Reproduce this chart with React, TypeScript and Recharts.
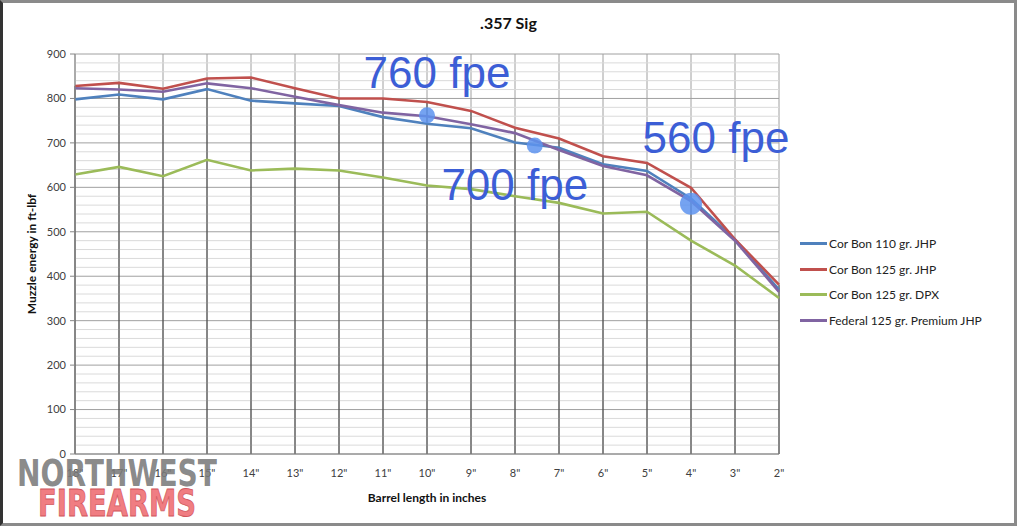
import {
  LineChart,
  Line,
  XAxis,
  YAxis,
  CartesianGrid,
  ReferenceLine,
  ReferenceDot,
} from "recharts";

const INCHES = [18, 17, 16, 15, 14, 13, 12, 11, 10, 9, 8, 7, 6, 5, 4, 3, 2];
const COR_BON_110 = [798, 809, 798, 821, 795, 789, 783, 758, 743, 733, 701, 689, 652, 637, 575, 483, 370];
const COR_BON_125 = [828, 835, 822, 845, 847, 823, 800, 800, 792, 772, 734, 710, 670, 655, 599, 483, 381];
const COR_BON_DPX = [629, 646, 625, 662, 638, 642, 638, 622, 604, 596, 580, 565, 541, 545, 480, 424, 351];
const FEDERAL_125 = [823, 820, 815, 834, 823, 804, 785, 768, 760, 742, 722, 684, 648, 627, 569, 480, 365];

const Y_TICKS = [0, 100, 200, 300, 400, 500, 600, 700, 800, 900];

// callouts drawn on top of the chart
const NOTE_X = [10, 7.55, 4];
const NOTE_Y = [762, 694, 563];
const NOTE_TEXT = ["760 fpe", "700 fpe", "560 fpe"];

const SERIES = [
  { key: "cb110", name: "Cor Bon 110 gr. JHP", color: "#4f81bd" },
  { key: "cb125", name: "Cor Bon 125 gr. JHP", color: "#c0504d" },
  { key: "dpx", name: "Cor Bon 125 gr. DPX", color: "#9bbb59" },
  { key: "fed", name: "Federal 125 gr. Premium JHP", color: "#8064a2" },
];

const data = INCHES.map((inch, i) => ({
  inch,
  cb110: COR_BON_110[i],
  cb125: COR_BON_125[i],
  dpx: COR_BON_DPX[i],
  fed: FEDERAL_125[i],
}));

const minorLines: number[] = [];
for (let v = 20; v < 900; v += 20) if (v % 100 !== 0) minorLines.push(v);

const FONT = "Lato, 'Open Sans', sans-serif";
const NOTE_BLUE = "#3c5ed6";

// offsets of each callout text from its dot
const NOTE_OFFSET = [
  { dx: 10, dy: -27 },
  { dx: -20, dy: 54 },
  { dx: 25, dy: -51 },
];

const noteLabel = (i: number) => (props: any) => {
  const vb = props.viewBox || {};
  const cx = vb.x + (vb.width || 0) / 2;
  const cy = vb.y + (vb.height || 0) / 2;
  return (
    <text
      x={cx + NOTE_OFFSET[i].dx}
      y={cy + NOTE_OFFSET[i].dy}
      textAnchor="middle"
      fill={NOTE_BLUE}
      fontFamily="'Liberation Sans', Arial, sans-serif"
      fontSize={44}
    >
      {NOTE_TEXT[i]}
    </text>
  );
};

export default function App() {
  return (
    <div
      style={{
        position: "relative",
        width: 1011,
        height: 520,
        border: "3px solid #8a8a8a",
        borderLeftColor: "#333",
        background: "#fff",
      }}
    >
      <style>{"body{margin:0}"}</style>
      <LineChart
        width={1011}
        height={520}
        data={data}
        margin={{ top: 51, right: 235, bottom: 39, left: 27 }}
      >
        <CartesianGrid stroke="#a0a0a0" strokeWidth={1} />
        {minorLines.map((v) => (
          <ReferenceLine key={`minor-${v}`} y={v} stroke="#dadada" strokeWidth={1} />
        ))}
        <XAxis
          type="number"
          dataKey="inch"
          domain={[2, 18]}
          reversed
          ticks={INCHES}
          interval={0}
          tickFormatter={(v) => `${v}"`}
          tickLine={false}
          tickSize={0}
          tickMargin={15}
          height={30}
          axisLine={{ stroke: "#868686" }}
          tick={{ fill: "#404040", fontSize: 11, fontFamily: FONT }}
        />
        <YAxis
          domain={[0, 900]}
          ticks={Y_TICKS}
          interval={0}
          width={45}
          tickSize={5}
          tickMargin={4}
          tickLine={{ stroke: "#868686" }}
          axisLine={{ stroke: "#868686" }}
          tick={{ fill: "#404040", fontSize: 11, fontFamily: FONT }}
        />
        {data.map((d) => (
          <ReferenceLine
            key={`drop-${d.inch}`}
            segment={[
              { x: d.inch, y: 0 },
              { x: d.inch, y: Math.max(d.cb110, d.cb125, d.dpx, d.fed) },
            ]}
            stroke="#1a1a1a"
            strokeWidth={0.8}
          />
        ))}
        {SERIES.map((s) => (
          <Line
            key={s.key}
            dataKey={s.key}
            name={s.name}
            stroke={s.color}
            strokeWidth={2.6}
            dot={false}
            isAnimationActive={false}
          />
        ))}
        {NOTE_X.map((x, i) => (
          <ReferenceDot
            key={`note-${i}`}
            x={x}
            y={NOTE_Y[i]}
            r={i === 2 ? 11 : 8}
            fill="#5d93ee"
            fillOpacity={0.85}
            stroke="none"
            label={noteLabel(i)}
          />
        ))}
      </LineChart>

      <div
        style={{
          position: "absolute",
          left: 797,
          top: 228,
          fontFamily: FONT,
          fontSize: 12,
          color: "#222",
        }}
      >
        {SERIES.map((s) => (
          <div key={s.key} style={{ display: "flex", alignItems: "center", height: 25.5 }}>
            <span
              style={{
                display: "inline-block",
                width: 27,
                height: 3,
                background: s.color,
                marginRight: 2,
              }}
            />
            {s.name}
          </div>
        ))}
      </div>

      <div
        style={{
          position: "absolute",
          left: 0,
          top: 10,
          width: 1011,
          textAlign: "center",
          fontFamily: FONT,
          fontWeight: 700,
          fontSize: 16,
          color: "#111",
        }}
      >
        .357 Sig
      </div>
      <div
        style={{
          position: "absolute",
          left: 29 - 100,
          top: 251 - 10,
          width: 200,
          height: 20,
          lineHeight: "20px",
          textAlign: "center",
          transform: "rotate(-90deg)",
          fontFamily: FONT,
          fontWeight: 700,
          fontSize: 12,
          color: "#111",
        }}
      >
        Muzzle energy in ft-lbf
      </div>
      <div
        style={{
          position: "absolute",
          left: 424 - 150,
          top: 487,
          width: 300,
          textAlign: "center",
          fontFamily: FONT,
          fontWeight: 700,
          fontSize: 12,
          color: "#111",
        }}
      >
        Barrel length in inches
      </div>

      <svg
        width={240}
        height={80}
        style={{ position: "absolute", left: 8, top: 450, pointerEvents: "none" }}
      >
        <text
          x={6}
          y={33}
          textLength={200}
          lengthAdjust="spacingAndGlyphs"
          fontFamily="'DejaVu Sans', sans-serif"
          fontWeight={700}
          fontSize={38}
          fill="#7b7b7b"
          fillOpacity={0.9}
        >
          NORTHWEST
        </text>
        <text
          x={27}
          y={63}
          textLength={158}
          lengthAdjust="spacingAndGlyphs"
          fontFamily="'DejaVu Sans', sans-serif"
          fontWeight={700}
          fontSize={37}
          fill="#f07d82"
          stroke="#d0565c"
          strokeWidth={0.8}
        >
          FIREARMS
        </text>
      </svg>
    </div>
  );
}
